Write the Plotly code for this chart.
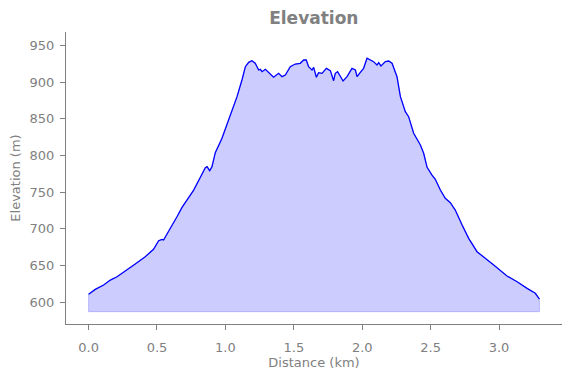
import plotly.graph_objects as go

distance_km = [0.000, 0.049, 0.110, 0.159, 0.208, 0.281, 0.341, 0.414, 0.475, 0.512,
               0.537, 0.548, 0.573, 0.610, 0.646, 0.683, 0.719, 0.768, 0.817, 0.853,
               0.866, 0.885, 0.902, 0.926, 0.975, 1.012, 1.036, 1.072, 1.085, 1.121,
               1.146, 1.170, 1.194, 1.218, 1.243, 1.255, 1.268, 1.292, 1.316, 1.352,
               1.389, 1.414, 1.438, 1.474, 1.511, 1.547, 1.572, 1.591, 1.608, 1.633,
               1.645, 1.665, 1.681, 1.706, 1.738, 1.767, 1.791, 1.803, 1.820, 1.860,
               1.889, 1.925, 1.950, 1.962, 1.986, 2.010, 2.035, 2.059, 2.083, 2.108,
               2.120, 2.137, 2.169, 2.193, 2.218, 2.254, 2.279, 2.315, 2.339, 2.376,
               2.425, 2.449, 2.474, 2.510, 2.534, 2.571, 2.607, 2.644, 2.680, 2.730,
               2.778, 2.839, 2.887, 2.961, 3.058, 3.132, 3.205, 3.265, 3.295]
elevation_m = [610.5, 617.3, 623.2, 630.0, 634.5, 644.7, 651.9, 661.9, 672.0, 683.7,
               685.6, 684.7, 692.5, 705.2, 716.5, 729.3, 739.3, 752.9, 770.3, 783.4,
               784.8, 779.3, 784.8, 803.9, 823.5, 841.7, 855.4, 871.3, 880.4, 903.2,
               921.3, 927.3, 929.5, 926.0, 916.8, 917.8, 914.5, 917.8, 913.7, 906.9,
               912.3, 907.7, 910.0, 921.3, 925.0, 926.0, 930.5, 930.5, 921.3, 916.8,
               920.5, 906.9, 913.1, 912.3, 919.1, 915.9, 902.2, 912.3, 914.5, 901.8,
               907.7, 919.1, 916.8, 907.7, 913.7, 919.1, 932.8, 930.5, 928.2, 923.6,
               926.8, 922.3, 928.2, 929.1, 926.0, 907.7, 880.4, 859.9, 853.1, 830.4,
               814.4, 803.1, 783.9, 773.4, 767.6, 752.9, 741.6, 735.6, 725.6, 705.2,
               687.0, 668.7, 661.9, 650.5, 635.5, 627.7, 618.7, 611.9, 604.1]
fill_base = 586.8

x_ticks = [0.0, 0.5, 1.0, 1.5, 2.0, 2.5, 3.0]
x_tick_labels = ["0.0", "0.5", "1.0", "1.5", "2.0", "2.5", "3.0"]
y_ticks = [600, 650, 700, 750, 800, 850, 900, 950]

grey = "#808080"
font = "DejaVu Sans"

fig = go.Figure()
poly_x = distance_km + distance_km[::-1] + [distance_km[0]]
poly_y = elevation_m + [fill_base] * len(distance_km) + [elevation_m[0]]
fig.add_trace(go.Scatter(x=poly_x, y=poly_y, mode="lines", fill="toself",
                         fillcolor="rgba(0,0,255,0.2)",
                         line=dict(color="rgba(0,0,255,0.2)", width=1),
                         hoverinfo="skip", showlegend=False))
fig.add_trace(go.Scatter(x=distance_km, y=elevation_m, mode="lines",
                         line=dict(color="blue", width=1.3), showlegend=False))

fig.update_layout(
    width=555, height=362,
    margin=dict(l=58, r=1, t=24, b=46, autoexpand=False),
    paper_bgcolor="white", plot_bgcolor="white",
    font=dict(family=font, color=grey, size=13),
    title=dict(text="<b>Elevation</b>", x=0.551, xanchor="center", y=0.972, yanchor="middle",
               font=dict(size=17, color=grey, family=font)),
    xaxis=dict(range=[-0.165, 3.46], tickvals=x_ticks, ticktext=x_tick_labels,
               showgrid=False, zeroline=False, showline=True, linecolor=grey, linewidth=1,
               ticks="outside", ticklen=5, tickcolor=grey, automargin=False,
               ticklabelstandoff=6,
               title=dict(text="Distance (km)", standoff=6, font=dict(size=13, color=grey))),
    yaxis=dict(range=[570, 968.7], tickvals=y_ticks,
               showgrid=False, zeroline=False, showline=True, linecolor=grey, linewidth=1,
               ticks="outside", ticklen=5, tickcolor=grey, automargin=False,
               ticklabelstandoff=3,
               title=dict(text="Elevation (m)", standoff=8, font=dict(size=13, color=grey))),
)

fig.write_html("out.html")
